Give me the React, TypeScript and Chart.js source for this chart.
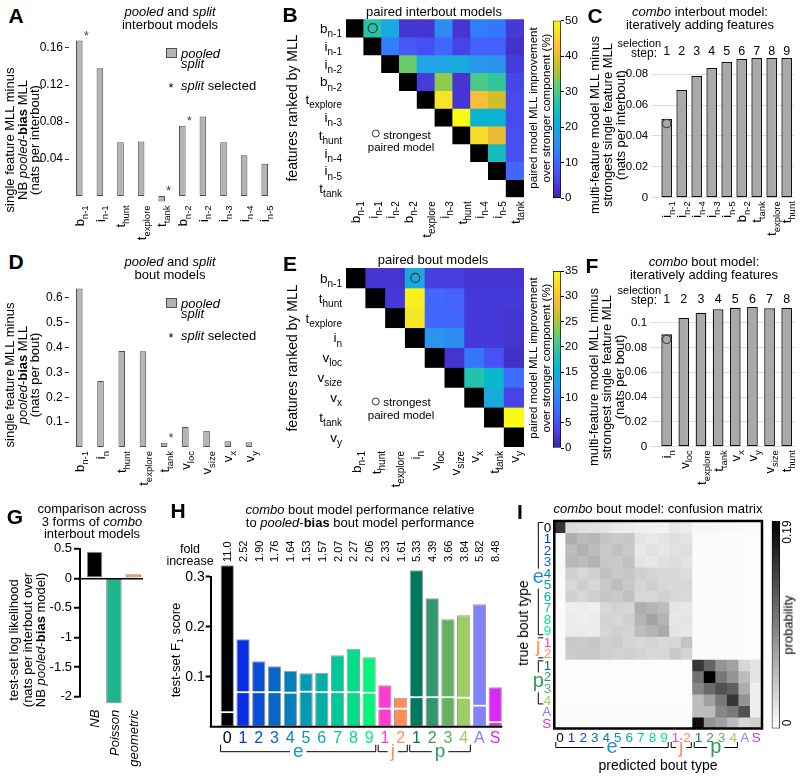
import React, { useEffect, useRef } from 'react';
import { Chart, registerables } from 'chart.js';

Chart.register(...registerables);
const FONT = '"Liberation Sans", Arial, Helvetica, sans-serif';
Chart.defaults.font.family = FONT;
Chart.defaults.color = '#000';

// ---------------- DATA ----------------
// A: pooled and split interbout models
const aLabels = ['b_n-1', 'i_n-1', 't_hunt', 't_explore', 't_tank', 'b_n-2', 'i_n-2', 'i_n-3', 'i_n-4', 'i_n-5'];
const aValues = [0.168, 0.138, 0.058, 0.059, -0.006, 0.076, 0.086, 0.058, 0.044, 0.035];
const aSplitSelected = [true, false, false, false, true, true, false, false, false, false];
const aTicks = [0.04, 0.08, 0.12, 0.16];

// B: paired interbout models (% improvement, upper triangle)
const bLabels = ['b_n-1', 'i_n-1', 'i_n-2', 'b_n-2', 't_explore', 'i_n-3', 't_hunt', 'i_n-4', 'i_n-5', 't_tank'];
const bMatrix = [
  [null, 27, 20, 3, 3, 15, 3, 13, 12, 3.5],
  [null, null, 13, 8, 6.5, 10, 5, 9, 9, 2.5],
  [null, null, null, 32, 19, 19, 20, 17, 16, 4],
  [null, null, null, null, 4, 34, 3, 30, 28, 5.5],
  [null, null, null, null, null, 47, 3, 42, 38, 6],
  [null, null, null, null, null, null, 50, 22, 21.5, 6],
  [null, null, null, null, null, null, null, 46, 40, 6.5],
  [null, null, null, null, null, null, null, null, 25, 7],
  [null, null, null, null, null, null, null, null, null, 10],
  [null, null, null, null, null, null, null, null, null, null],
];
const bStrongest = [0, 1];
const bColorTicks = [0, 10, 20, 30, 40, 50];
const bMax = 50;

// C: combo interbout model
const cLabels = ['i_n-1', 'i_n-2', 'i_n-4', 'i_n-3', 'i_n-5', 'b_n-2', 't_tank', 't_explore', 't_hunt'];
const cValues = [0.0509, 0.0697, 0.0788, 0.084, 0.0878, 0.0898, 0.0904, 0.0904, 0.0905];
const cSteps = ['1', '2', '3', '4', '5', '6', '7', '8', '9'];
const cTicks = [0, 0.02, 0.04, 0.06, 0.08];
const cMarker = 0.048;

// D: pooled and split bout models
const dLabels = ['b_n-1', 'i_n', 't_hunt', 't_explore', 't_tank', 'v_loc', 'v_size', 'v_x', 'v_y'];
const dValues = [0.637, 0.265, 0.386, 0.385, 0.017, 0.08, 0.065, 0.023, 0.019];
const dSplitSelected = [false, false, false, false, true, false, false, false, false];
const dTicks = [0.1, 0.2, 0.3, 0.4, 0.5, 0.6];

// E: paired bout models
const eLabels = ['b_n-1', 't_hunt', 't_explore', 'i_n', 'v_loc', 'v_size', 'v_x', 't_tank', 'v_y'];
const eMatrix = [
  [null, 2, 2, 14, 3, 3, 2, 2, 2],
  [null, null, 2.5, 34, 7, 6.5, 2.5, 2.5, 2.5],
  [null, null, null, 33, 7, 7, 2.5, 2.5, 2],
  [null, null, null, null, 11.5, 10.5, 2.5, 2.5, 2],
  [null, null, null, null, null, 2, 8.5, 5, 1.5],
  [null, null, null, null, null, null, 18.5, 16, 7.5],
  [null, null, null, null, null, null, null, 14, 3.5],
  [null, null, null, null, null, null, null, null, 35],
  [null, null, null, null, null, null, null, null, null],
];
const eStrongest = [0, 3];
const eColorTicks = [0, 5, 10, 15, 20, 25, 30, 35];
const eMax = 35;

// F: combo bout model
const fLabels = ['i_n', 'v_loc', 't_explore', 't_tank', 'v_x', 'v_y', 'v_size', 't_hunt'];
const fValues = [0.0906, 0.104, 0.108, 0.1108, 0.1121, 0.1127, 0.1116, 0.1121];
const fSteps = ['1', '2', '3', '4', '5', '6', '7', '8'];
const fTicks = [0, 0.02, 0.04, 0.06, 0.08, 0.1];
const fMarker = 0.0866;

// G: 3 forms of combo interbout models
const gLabels = ['NB', 'Poisson', 'geometric'];
const gValues = [0.45, -2.11, 0.067];
const gColors = ['#000000', '#1fb58b', '#f28a1c'];
const gTicks = [0.5, 0, -0.5, -1, -1.5, -2];

// H: F1 scores
const boutLabels = ['0', '1', '2', '3', '4', '5', '6', '7', '8', '9', '1', '2', '1', '2', '3', '4', 'A', 'S'];
const boutColors = ['#000000', '#0a2ee6', '#0a50d6', '#0868c8', '#0580bc', '#049ab4', '#02b0a6', '#00c896', '#00de88', '#00f47a', '#ff3cd0', '#ff8c5a', '#007a5c', '#33966a', '#66b064', '#a0cc64', '#8282ff', '#dc28f5'];
const boutGroups = [
  { label: 'e', from: 0, to: 9, color: '#2a8cd2' },
  { label: 'j', from: 10, to: 11, color: '#ff8c5a' },
  { label: 'p', from: 12, to: 15, color: '#2f9a62' },
];
const hValues = [0.323, 0.175, 0.131, 0.121, 0.112, 0.107, 0.108, 0.143, 0.156, 0.139, 0.083, 0.058, 0.313, 0.257, 0.215, 0.223, 0.245, 0.079];
const hChance = [0.029, 0.069, 0.069, 0.069, 0.068, 0.07, 0.069, 0.069, 0.069, 0.068, 0.036, 0.036, 0.059, 0.059, 0.059, 0.058, 0.042, 0.009];
const hFold = ['11.0', '2.52', '1.90', '1.76', '1.64', '1.53', '1.57', '2.07', '2.27', '2.06', '2.33', '1.61', '5.33', '4.39', '3.66', '3.84', '5.82', '8.48'];
const hTicks = [0.1, 0.2, 0.3];

// I: confusion matrix (rows true, cols predicted)
const iMax = 0.19;
const iMatrix = [
  [0.15, 0.026, 0.024, 0.022, 0.02, 0.016, 0.014, 0.012, 0.012, 0.01, 0.018, 0.014, 0.006, 0.006, 0.005, 0.005, 0.004, 0.004],
  [0.004, 0.06, 0.05, 0.054, 0.044, 0.04, 0.042, 0.02, 0.017, 0.02, 0.024, 0.02, 0.003, 0.003, 0.003, 0.003, 0.002, 0.002],
  [0.004, 0.05, 0.058, 0.05, 0.04, 0.046, 0.04, 0.017, 0.022, 0.018, 0.022, 0.025, 0.003, 0.003, 0.003, 0.003, 0.002, 0.002],
  [0.004, 0.054, 0.05, 0.057, 0.042, 0.04, 0.046, 0.02, 0.018, 0.022, 0.025, 0.021, 0.003, 0.003, 0.003, 0.003, 0.002, 0.002],
  [0.004, 0.036, 0.03, 0.035, 0.046, 0.04, 0.043, 0.035, 0.031, 0.03, 0.03, 0.026, 0.003, 0.003, 0.003, 0.003, 0.002, 0.002],
  [0.004, 0.03, 0.036, 0.03, 0.04, 0.049, 0.04, 0.031, 0.035, 0.03, 0.028, 0.03, 0.003, 0.003, 0.003, 0.003, 0.002, 0.002],
  [0.004, 0.034, 0.03, 0.036, 0.043, 0.04, 0.047, 0.03, 0.03, 0.035, 0.03, 0.028, 0.003, 0.003, 0.003, 0.003, 0.002, 0.002],
  [0.003, 0.012, 0.014, 0.012, 0.03, 0.033, 0.03, 0.06, 0.055, 0.05, 0.02, 0.018, 0.003, 0.003, 0.003, 0.003, 0.002, 0.002],
  [0.003, 0.014, 0.012, 0.015, 0.033, 0.03, 0.035, 0.055, 0.068, 0.056, 0.018, 0.02, 0.003, 0.003, 0.003, 0.003, 0.002, 0.002],
  [0.003, 0.015, 0.016, 0.014, 0.03, 0.035, 0.032, 0.05, 0.056, 0.063, 0.02, 0.018, 0.003, 0.003, 0.003, 0.003, 0.002, 0.002],
  [0.003, 0.04, 0.038, 0.042, 0.035, 0.038, 0.032, 0.03, 0.032, 0.028, 0.03, 0.045, 0.003, 0.003, 0.003, 0.003, 0.002, 0.002],
  [0.003, 0.038, 0.042, 0.04, 0.036, 0.033, 0.035, 0.032, 0.028, 0.03, 0.04, 0.032, 0.003, 0.003, 0.003, 0.003, 0.002, 0.002],
  [0.002, 0.002, 0.002, 0.002, 0.002, 0.002, 0.002, 0.002, 0.002, 0.002, 0.002, 0.002, 0.15, 0.115, 0.08, 0.07, 0.03, 0.02],
  [0.002, 0.002, 0.002, 0.002, 0.002, 0.002, 0.002, 0.002, 0.002, 0.002, 0.002, 0.002, 0.105, 0.19, 0.1, 0.08, 0.05, 0.02],
  [0.002, 0.002, 0.002, 0.002, 0.002, 0.002, 0.002, 0.002, 0.002, 0.002, 0.002, 0.002, 0.09, 0.11, 0.13, 0.12, 0.06, 0.012],
  [0.002, 0.002, 0.002, 0.002, 0.002, 0.002, 0.002, 0.002, 0.002, 0.002, 0.002, 0.002, 0.05, 0.07, 0.1, 0.15, 0.08, 0.012],
  [0.003, 0.003, 0.003, 0.003, 0.003, 0.003, 0.003, 0.003, 0.003, 0.003, 0.003, 0.003, 0.05, 0.05, 0.09, 0.1, 0.13, 0.012],
  [0.003, 0.003, 0.003, 0.003, 0.003, 0.003, 0.003, 0.003, 0.003, 0.003, 0.003, 0.003, 0.18, 0.08, 0.07, 0.05, 0.03, 0.035],
];

// ---------------- HELPERS ----------------
const PARULA: [number, number[]][] = [
  [0, [0.2422, 0.1504, 0.6603]], [4, [0.2706, 0.2147, 0.8364]], [8, [0.2813, 0.3006, 0.9414]],
  [12, [0.2699, 0.3892, 0.9906]], [16, [0.1963, 0.4847, 0.9892]], [20, [0.1687, 0.5703, 0.9359]],
  [24, [0.1248, 0.6459, 0.8883]], [28, [0.0297, 0.7082, 0.8163]], [32, [0.0964, 0.75, 0.712]],
  [36, [0.2161, 0.7843, 0.5923]], [40, [0.3909, 0.8029, 0.4354]], [44, [0.6174, 0.7876, 0.2612]],
  [48, [0.8203, 0.7498, 0.1535]], [52, [0.9728, 0.7298, 0.2394]], [56, [0.9892, 0.8136, 0.1885]],
  [60, [0.9597, 0.9135, 0.1423]], [63, [0.9769, 0.9839, 0.0805]],
];
function parula(t: number) {
  const f = Math.max(0, Math.min(1, t)) * 63;
  let k = 0;
  while (k < PARULA.length - 2 && PARULA[k + 1][0] < f) k++;
  const [p0, c0] = PARULA[k];
  const [p1, c1] = PARULA[k + 1];
  const u = (f - p0) / (p1 - p0);
  const c = c0.map((v, j) => Math.round(255 * (v + (c1[j] - v) * u)));
  return `rgb(${c[0]},${c[1]},${c[2]})`;
}
function grayOf(v: number) {
  const g = Math.round(255 * (1 - Math.max(0, Math.min(1, v / iMax))));
  return `rgb(${g},${g},${g})`;
}

type Rect = { x: number; y: number; w: number; h: number };
type Area = { l: number; r: number; t: number; b: number; min: number; max: number };
function area(l: number, r: number, zero: number, ppu: number, min: number, max: number): Area {
  return { l, r, t: zero - max * ppu, b: zero - min * ppu, min, max };
}
function padFor(rect: Rect, a: { l: number; r: number; t: number; b: number }, yw: number, right = false) {
  return {
    left: a.l - rect.x - (right ? 0 : yw),
    top: a.t - rect.y,
    right: rect.x + rect.w - a.r - (right ? yw : 0),
    bottom: rect.y + rect.h - a.b,
  };
}

function drawSubText(ctx: CanvasRenderingContext2D, label: string, ax: number, ay: number, size: number, subSize: number, opts: any = {}) {
  const { rotate = false, align = 'right', color = '#000', italic = false } = opts;
  const idx = label.indexOf('_');
  const base = idx >= 0 ? label.slice(0, idx) : label;
  const sub = idx >= 0 ? label.slice(idx + 1) : '';
  const fb = (italic ? 'italic ' : '') + size + 'px ' + FONT;
  const fs = subSize + 'px ' + FONT;
  ctx.save();
  ctx.font = fb;
  const wb = ctx.measureText(base).width;
  ctx.font = fs;
  const ws = sub ? ctx.measureText(sub).width : 0;
  const total = wb + ws;
  ctx.translate(ax, ay);
  if (rotate) ctx.rotate(-Math.PI / 2);
  const x0 = align === 'right' ? -total : align === 'center' ? -total / 2 : 0;
  const by = size * 0.36;
  ctx.fillStyle = color;
  ctx.textAlign = 'left';
  ctx.textBaseline = 'alphabetic';
  ctx.font = fb;
  ctx.fillText(base, x0, by);
  if (sub) {
    ctx.font = fs;
    ctx.fillText(sub, x0 + wb, by + size * 0.3);
  }
  ctx.restore();
}

function drawBracket(ctx: CanvasRenderingContext2D, horiz: boolean, a: number, b: number, pos: number, tick: number, letter: string, color: string, fsize: number) {
  ctx.save();
  ctx.font = fsize + 'px ' + FONT;
  const m = (a + b) / 2;
  const gap = horiz ? ctx.measureText(letter).width / 2 + 3 : fsize * 0.4 + 2;
  ctx.strokeStyle = '#000';
  ctx.lineWidth = 1;
  ctx.beginPath();
  if (horiz) {
    ctx.moveTo(a, pos + tick); ctx.lineTo(a, pos); ctx.lineTo(m - gap, pos);
    ctx.moveTo(m + gap, pos); ctx.lineTo(b, pos); ctx.lineTo(b, pos + tick);
  } else {
    ctx.moveTo(pos + tick, a); ctx.lineTo(pos, a); ctx.lineTo(pos, m - gap);
    ctx.moveTo(pos, m + gap); ctx.lineTo(pos, b); ctx.lineTo(pos + tick, b);
  }
  ctx.stroke();
  ctx.fillStyle = color;
  ctx.textAlign = 'center';
  ctx.textBaseline = 'middle';
  if (horiz) ctx.fillText(letter, m, pos);
  else ctx.fillText(letter, pos, m - 1);
  ctx.restore();
}

const common = {
  responsive: false,
  animation: false,
  devicePixelRatio: 1,
  events: [],
  plugins: { legend: { display: false }, tooltip: { enabled: false }, title: { display: false } },
};

// ---------------- CONFIGS ----------------
function featureConfig(o: any) {
  return {
    type: 'bar',
    data: {
      labels: o.labels.map((_: any, i: number) => 'k' + i),
      datasets: [{
        data: o.values, backgroundColor: o.bg, borderColor: o.border, borderWidth: o.bw,
        barPercentage: o.pct, categoryPercentage: 1, clip: false, borderSkipped: false,
      }],
    },
    options: {
      ...common,
      layout: { padding: padFor(o.rect, o.area, o.yw) },
      scales: {
        x: { display: false },
        y: {
          min: o.area.min, max: o.area.max,
          afterFit: (s: any) => { s.width = o.yw; },
          afterBuildTicks: (s: any) => { s.ticks = o.ticks.map((v: number) => ({ value: v })); },
          ticks: { callback: (v: number) => String(+v.toFixed(2)), font: { size: o.tickSize, family: FONT }, color: '#000', padding: o.tickPad },
          grid: o.grid,
          border: { display: false },
        },
      },
    },
    plugins: [{
      id: 'featDeco',
      afterDatasetsDraw(chart: any) {
        const { ctx, chartArea: ca } = chart;
        const xs = chart.scales.x, ys = chart.scales.y;
        o.labels.forEach((lab: string, i: number) => {
          const x = xs.getPixelForValue(i);
          drawSubText(ctx, lab, x, ca.bottom + o.labelGap, 13, 9.5, { rotate: true, align: 'right' });
          if (o.stars && o.stars[i]) {
            const yt = ys.getPixelForValue(Math.max(o.values[i], 0));
            ctx.save();
            ctx.font = '12px ' + FONT; ctx.fillStyle = '#333'; ctx.textAlign = 'center'; ctx.textBaseline = 'middle';
            ctx.fillText('*', x + 7, yt - 4);
            ctx.restore();
          }
          if (o.steps) {
            ctx.save();
            ctx.font = '12.5px ' + FONT; ctx.fillStyle = '#000'; ctx.textAlign = 'center'; ctx.textBaseline = 'middle';
            ctx.fillText(o.steps[i], x, ca.top - o.stepGap);
            ctx.restore();
          }
        });
        if (o.marker != null) {
          ctx.save();
          ctx.strokeStyle = '#444'; ctx.lineWidth = 1.2;
          ctx.beginPath();
          ctx.arc(xs.getPixelForValue(0), ys.getPixelForValue(o.marker), 4.2, 0, Math.PI * 2);
          ctx.stroke();
          ctx.restore();
        }
      },
    }],
  };
}

const A_RECT = { x: 40, y: 15, w: 245, h: 262 };
const A_AREA = area(69, 275, 196, 925, -0.008, 0.175);
const D_RECT = { x: 40, y: 265, w: 245, h: 257 };
const D_AREA = area(68.7, 259.6, 447, 249, 0, 0.66);
const C_RECT = { x: 595, y: 28, w: 205, h: 247 };
const C_AREA = area(659.2, 794.2, 197.7, 1545, 0, 0.0905);
const F_RECT = { x: 595, y: 278, w: 205, h: 244 };
const F_AREA = area(658.1, 795.3, 446.7, 1240, 0, 0.113);

const featGrid = { drawOnChartArea: false, drawTicks: true, tickLength: 4, color: '#333', tickColor: '#333' };
const lightGrid = { drawOnChartArea: true, drawTicks: true, tickLength: 8, color: '#dedede', tickColor: '#dedede' };

const configA = () => featureConfig({ rect: A_RECT, area: A_AREA, yw: 32, labels: aLabels, values: aValues, ticks: aTicks, tickSize: 12, tickPad: 2, grid: featGrid, bg: '#b4b4b4', border: '#505050', bw: 1, pct: 0.32, labelGap: 2, stars: aSplitSelected });
const configD = () => featureConfig({ rect: D_RECT, area: D_AREA, yw: 32, labels: dLabels, values: dValues, ticks: dTicks, tickSize: 12, tickPad: 2, grid: featGrid, bg: '#b4b4b4', border: '#505050', bw: 1, pct: 0.31, labelGap: 4, stars: dSplitSelected });
const configC = () => featureConfig({ rect: C_RECT, area: C_AREA, yw: 45, labels: cLabels, values: cValues, ticks: cTicks, tickSize: 11.5, tickPad: 3, grid: lightGrid, bg: '#a9a9a9', border: '#111', bw: 1.3, pct: 0.71, labelGap: 3.5, steps: cSteps, stepGap: 6, marker: cMarker });
const configF = () => featureConfig({ rect: F_RECT, area: F_AREA, yw: 45, labels: fLabels, values: fValues, ticks: fTicks, tickSize: 11.5, tickPad: 3, grid: lightGrid, bg: '#a9a9a9', border: '#111', bw: 1.3, pct: 0.625, labelGap: 3.5, steps: fSteps, stepGap: 7.5, marker: fMarker });

function heatConfig(rect: Rect, a: any, labels: string[], matrix: (number | null)[][], vmax: number, strongest: number[]) {
  const n = labels.length;
  return {
    type: 'bar',
    data: {
      labels: labels.map((_, i) => 'c' + i),
      datasets: labels.map((_, r) => ({
        data: labels.map(() => 1),
        backgroundColor: labels.map((__, c) => (c === r ? '#000000' : c > r && matrix[r][c] != null ? parula((matrix[r][c] as number) / vmax) : 'rgba(0,0,0,0)')),
        borderWidth: 0, barPercentage: 1, categoryPercentage: 1, inflateAmount: 0.4,
      })),
    },
    options: {
      ...common,
      layout: { padding: padFor(rect, a, 0) },
      scales: {
        x: { display: false, stacked: true },
        y: { display: false, stacked: true, min: 0, max: n, reverse: true },
      },
    },
    plugins: [{
      id: 'heatDeco',
      afterDatasetsDraw(chart: any) {
        const { ctx, chartArea: ca } = chart;
        const xs = chart.scales.x, ys = chart.scales.y;
        labels.forEach((lab, i) => {
          drawSubText(ctx, lab, ca.left - 4, ys.getPixelForValue(i + 0.5), 13.5, 10, { align: 'right' });
          drawSubText(ctx, lab, xs.getPixelForValue(i), ca.bottom + 4, 13.5, 10, { rotate: true, align: 'right' });
        });
        ctx.save();
        ctx.strokeStyle = '#333'; ctx.lineWidth = 1.2;
        ctx.beginPath();
        ctx.arc(xs.getPixelForValue(strongest[1]), ys.getPixelForValue(strongest[0] + 0.5), 4.5, 0, Math.PI * 2);
        ctx.stroke();
        ctx.restore();
      },
    }],
  };
}

const B_RECT = { x: 250, y: 5, w: 285, h: 265 };
const B_AREA = { l: 346, r: 524, t: 19.3, b: 197.3 };
const E_RECT = { x: 250, y: 255, w: 285, h: 265 };
const E_AREA = { l: 346, r: 524, t: 268, b: 447 };
const configB = () => heatConfig(B_RECT, B_AREA, bLabels, bMatrix, bMax, bStrongest);
const configE = () => heatConfig(E_RECT, E_AREA, eLabels, eMatrix, eMax, eStrongest);

function colorbarConfig(rect: Rect, a: any, vmax: number, ticks: number[] | null, kind: 'parula' | 'gray') {
  const yw = ticks ? 22 : 0;
  return {
    type: 'bar',
    data: {
      labels: ['cb'],
      datasets: [{
        data: [vmax],
        backgroundColor: (c: any) => {
          const ca = c.chart.chartArea;
          if (!ca) return '#888';
          const g = c.chart.ctx.createLinearGradient(0, ca.bottom, 0, ca.top);
          if (kind === 'gray') { g.addColorStop(0, '#ffffff'); g.addColorStop(1, '#000000'); }
          else { for (let k = 0; k <= 20; k++) g.addColorStop(k / 20, parula(k / 20)); }
          return g;
        },
        borderColor: '#000', borderWidth: 1, borderSkipped: false, barPercentage: 1, categoryPercentage: 1,
      }],
    },
    options: {
      ...common,
      layout: { padding: padFor(rect, a, yw, true) },
      scales: {
        x: { display: false },
        y: ticks ? {
          position: 'right', min: 0, max: vmax,
          afterFit: (s: any) => { s.width = yw; },
          afterBuildTicks: (s: any) => { s.ticks = ticks.map((v) => ({ value: v })); },
          ticks: { font: { size: 11.5, family: FONT }, color: '#000', padding: 1 },
          grid: { drawOnChartArea: false, drawTicks: true, tickLength: 3, tickColor: '#000', color: '#000' },
          border: { display: false },
        } : { display: false, min: 0, max: vmax },
      },
    },
  };
}
const BC_RECT = { x: 545, y: 5, w: 50, h: 210 };
const EC_RECT = { x: 545, y: 255, w: 50, h: 210 };
const IC_RECT = { x: 765, y: 505, w: 30, h: 240 };
const configBC = () => colorbarConfig(BC_RECT, { l: 553, r: 561, t: 20.7, b: 198.3 }, bMax, bColorTicks, 'parula');
const configEC = () => colorbarConfig(EC_RECT, { l: 553, r: 561, t: 271, b: 448 }, eMax, eColorTicks, 'parula');
const configIC = () => colorbarConfig(IC_RECT, { l: 771.7, r: 780, t: 521, b: 728.5 }, iMax, null, 'gray');

const G_RECT = { x: 40, y: 530, w: 115, h: 247 };
const G_AREA = area(80, 143, 578.3, 59.2, -2, 0.5);
const configG = () => ({
  type: 'bar',
  data: {
    datasets: [{
      data: gValues.map((v, i) => ({ x: i, y: v })),
      backgroundColor: gColors, borderColor: 'rgba(0,0,0,0.45)', borderWidth: 1,
      barPercentage: 0.8, categoryPercentage: 1, clip: false, borderSkipped: false,
    }],
  },
  options: {
    ...common,
    layout: { padding: padFor(G_RECT, G_AREA, 40) },
    scales: {
      x: { type: 'linear', display: false, offset: false, min: -0.75, max: 2.5 },
      y: {
        min: G_AREA.min, max: G_AREA.max,
        afterFit: (s: any) => { s.width = 40; },
        afterBuildTicks: (s: any) => { s.ticks = gTicks.map((v) => ({ value: v })); },
        ticks: { callback: (v: number) => String(v), font: { size: 13, family: FONT }, color: '#000', padding: 2 },
        grid: { drawOnChartArea: true, drawTicks: true, tickLength: 6, tickColor: '#000', tickWidth: 2, lineWidth: 1.5, color: (c: any) => (c.tick && c.tick.value === 0 ? '#000' : 'rgba(0,0,0,0)') },
        border: { display: true, color: '#000', width: 2 },
      },
    },
  },
  plugins: [{
    id: 'gDeco',
    afterDatasetsDraw(chart: any) {
      const { ctx, chartArea: ca } = chart;
      const xs = chart.scales.x;
      gLabels.forEach((lab, i) => drawSubText(ctx, lab, xs.getPixelForValue(i), ca.bottom + 13, 13, 9, { rotate: true, align: 'right', italic: true }));
    },
  }],
});

const H_RECT = { x: 165, y: 530, w: 345, h: 247 };
const H_AREA = area(210.7, 502.3, 726.7, 500, 0, 0.3);
const configH = () => ({
  type: 'bar',
  data: {
    datasets: [{
      data: hValues.map((v, i) => ({ x: i, y: v })),
      backgroundColor: boutColors, borderColor: 'rgba(0,0,0,0.4)', borderWidth: 1,
      barPercentage: 0.845, categoryPercentage: 1, clip: false, borderSkipped: false,
    }],
  },
  options: {
    ...common,
    layout: { padding: padFor(H_RECT, H_AREA, 40) },
    scales: {
      x: { type: 'linear', display: false, offset: false, min: -1.05, max: 17.45 },
      y: {
        min: 0, max: 0.3,
        afterFit: (s: any) => { s.width = 40; },
        afterBuildTicks: (s: any) => { s.ticks = hTicks.map((v) => ({ value: v })); },
        ticks: { callback: (v: number) => v.toFixed(1), font: { size: 14, family: FONT }, color: '#000', padding: 1 },
        grid: { drawOnChartArea: false, drawTicks: true, tickLength: 5, tickColor: '#000', tickWidth: 2 },
        border: { display: true, color: '#000', width: 2 },
      },
    },
  },
  plugins: [{
    id: 'hDeco',
    afterDatasetsDraw(chart: any) {
      const { ctx, chartArea: ca } = chart;
      const xs = chart.scales.x, ys = chart.scales.y;
      const meta = chart.getDatasetMeta(0);
      ctx.save();
      ctx.strokeStyle = '#000'; ctx.lineWidth = 2;
      ctx.beginPath(); ctx.moveTo(ca.left - 1, ca.bottom); ctx.lineTo(ca.right, ca.bottom); ctx.stroke();
      ctx.strokeStyle = '#fff'; ctx.lineWidth = 1.8;
      hChance.forEach((v, i) => {
        const el = meta.data[i];
        const hw = el.width / 2 + 1.5;
        const y = ys.getPixelForValue(v);
        ctx.beginPath(); ctx.moveTo(el.x - hw, y); ctx.lineTo(el.x + hw, y); ctx.stroke();
      });
      ctx.restore();
      const hw = meta.data[0].width / 2;
      boutLabels.forEach((lab, i) => {
        const x = xs.getPixelForValue(i);
        drawSubText(ctx, hFold[i], x, ca.top - 14.7, 11, 8, { rotate: true, align: 'left' });
        drawSubText(ctx, lab, x, ca.bottom + 10.5, 16, 10, { align: 'center', color: boutColors[i] });
      });
      boutGroups.forEach((g) => {
        drawBracket(ctx, true, xs.getPixelForValue(g.from) - hw, xs.getPixelForValue(g.to) + hw, ca.bottom + 25, -7, g.label, g.color, 19);
      });
    },
  }],
});

const I_RECT = { x: 515, y: 505, w: 255, h: 272 };
const I_AREA = { l: 554.3, r: 762, t: 521, b: 728.5 };
const configI = () => ({
  type: 'bar',
  data: {
    labels: boutLabels.map((_, i) => 'c' + i),
    datasets: iMatrix.map((row) => ({
      data: row.map(() => 1),
      backgroundColor: row.map((v) => grayOf(v)),
      borderWidth: 0, barPercentage: 1, categoryPercentage: 1, inflateAmount: 0.5,
    })),
  },
  options: {
    ...common,
    layout: { padding: padFor(I_RECT, I_AREA, 0) },
    scales: {
      x: { display: false, stacked: true },
      y: { display: false, stacked: true, min: 0, max: boutLabels.length, reverse: true },
    },
  },
  plugins: [{
    id: 'iDeco',
    afterDatasetsDraw(chart: any) {
      const { ctx, chartArea: ca } = chart;
      const xs = chart.scales.x, ys = chart.scales.y;
      ctx.save();
      ctx.strokeStyle = '#000'; ctx.lineWidth = 2.5;
      ctx.strokeRect(ca.left, ca.top, ca.right - ca.left, ca.bottom - ca.top);
      ctx.restore();
      const cw = (ca.right - ca.left) / boutLabels.length;
      boutLabels.forEach((lab, i) => {
        drawSubText(ctx, lab, ca.left - 3, ys.getPixelForValue(i + 0.5), 13.5, 9, { align: 'right', color: boutColors[i] });
        drawSubText(ctx, lab, xs.getPixelForValue(i), ca.bottom + 8.5, 13.5, 9, { align: 'center', color: boutColors[i] });
      });
      boutGroups.forEach((g) => {
        drawBracket(ctx, false, ys.getPixelForValue(g.from) + 1.5, ys.getPixelForValue(g.to + 1) - 1.5, ca.left - 16, 5, g.label, g.color, 20);
        drawBracket(ctx, true, xs.getPixelForValue(g.from) - cw / 2 + 1.5, xs.getPixelForValue(g.to) + cw / 2 - 1.5, ca.bottom + 19, -5.5, g.label, g.color, 20);
      });
    },
  }],
});

// ---------------- COMPONENTS ----------------
function ChartCanvas({ rect, config }: { rect: Rect; config: () => any }) {
  const ref = useRef<HTMLCanvasElement>(null);
  useEffect(() => {
    const chart = new Chart(ref.current as HTMLCanvasElement, config());
    return () => chart.destroy();
  }, []);
  return <canvas ref={ref} width={rect.w} height={rect.h} style={{ position: 'absolute', left: rect.x, top: rect.y, width: rect.w, height: rect.h }} />;
}

function Txt({ x, y, children, size = 13, rot = 0, lh, anchor = 'center', bold = false, italic = false, align = 'center' }: any) {
  const tx = anchor === 'left' ? '0' : anchor === 'right' ? '-100%' : '-50%';
  return (
    <div style={{
      position: 'absolute', left: x, top: y, transform: `translate(${tx}, -50%)` + (rot ? ` rotate(${rot}deg)` : ''),
      fontSize: size, lineHeight: (lh || size * 1.0) + 'px', whiteSpace: 'nowrap', textAlign: align,
      fontWeight: bold ? 'bold' : 'normal', fontStyle: italic ? 'italic' : 'normal',
    }}>{children}</div>
  );
}

const Circ = () => (
  <span style={{ display: 'inline-block', width: 8, height: 8, border: '1.2px solid #333', borderRadius: '50%', boxSizing: 'border-box', marginRight: 4, verticalAlign: 'middle', position: 'relative', top: -1 }} />
);

function Legend({ y0 }: { y0: number }) {
  return (
    <>
      <div style={{ position: 'absolute', left: 166, top: y0, width: 11, height: 10, background: '#b4b4b4', border: '1px solid #505050', boxSizing: 'border-box' }} />
      <Txt x={181} y={y0 + 4.7} anchor="left" italic>pooled</Txt>
      <Txt x={181} y={y0 + 15.3} anchor="left" italic>split</Txt>
      <Txt x={171} y={y0 + 39} size={13}>*</Txt>
      <Txt x={181} y={y0 + 37} anchor="left"><i>split</i> selected</Txt>
    </>
  );
}

export default function App() {
  return (
    <div style={{ position: 'absolute', left: 0, top: 0, width: 800, height: 777, background: '#fff', overflow: 'hidden', fontFamily: FONT, color: '#000' }}>
      <ChartCanvas rect={A_RECT} config={configA} />
      <ChartCanvas rect={D_RECT} config={configD} />
      <ChartCanvas rect={B_RECT} config={configB} />
      <ChartCanvas rect={E_RECT} config={configE} />
      <ChartCanvas rect={BC_RECT} config={configBC} />
      <ChartCanvas rect={EC_RECT} config={configEC} />
      <ChartCanvas rect={C_RECT} config={configC} />
      <ChartCanvas rect={F_RECT} config={configF} />
      <ChartCanvas rect={G_RECT} config={configG} />
      <ChartCanvas rect={H_RECT} config={configH} />
      <ChartCanvas rect={I_RECT} config={configI} />
      <ChartCanvas rect={IC_RECT} config={configIC} />

      {/* panel letters */}
      <Txt x={16} y={15} size={21} bold>A</Txt>
      <Txt x={290} y={14} size={21} bold>B</Txt>
      <Txt x={595} y={15} size={21} bold>C</Txt>
      <Txt x={16} y={261} size={21} bold>D</Txt>
      <Txt x={290} y={263} size={21} bold>E</Txt>
      <Txt x={592} y={265} size={21} bold>F</Txt>
      <Txt x={15} y={516} size={21} bold>G</Txt>
      <Txt x={178} y={510} size={21} bold>H</Txt>
      <Txt x={520} y={511} size={21} bold>I</Txt>

      {/* titles */}
      <Txt x={170} y={18} lh={12.5}><i>pooled</i> and <i>split</i><br />interbout models</Txt>
      <Txt x={434} y={11}>paired interbout models</Txt>
      <Txt x={700} y={18} lh={12.5}><i>combo</i> interbout model:<br />iteratively adding features</Txt>
      <Txt x={170} y={268} lh={12.5}><i>pooled</i> and <i>split</i><br />bout models</Txt>
      <Txt x={433} y={259}>paired bout models</Txt>
      <Txt x={704} y={268} lh={12.5}><i>combo</i> bout model:<br />iteratively adding features</Txt>
      <Txt x={92} y={522} lh={12.5}>comparison across<br />3 forms of <i>combo</i><br />interbout models</Txt>
      <Txt x={360} y={516} lh={12.5}><i>combo</i> bout model performance relative<br />to <i>pooled</i>-<b>bias</b> bout model performance</Txt>
      <Txt x={658} y={508}><i>combo</i> bout model: confusion matrix</Txt>

      {/* axis titles */}
      <Txt x={23} y={140} rot={-90} lh={12.5}>single feature MLL minus<br />NB <i>pooled</i>-<b>bias</b> MLL<br />(nats per interbout)</Txt>
      <Txt x={23} y={375} rot={-90} lh={12.5}>single feature MLL minus<br /><i>pooled</i>-<b>bias</b> MLL<br />(nats per bout)</Txt>
      <Txt x={607} y={125} rot={-90} lh={13}>multi-feature model MLL minus<br />strongest single feature MLL<br />(nats per interbout)</Txt>
      <Txt x={606} y={377} rot={-90} lh={13}>multi-feature model MLL minus<br />strongest single feature MLL<br />(nats per bout)</Txt>
      <Txt x={27} y={640} rot={-90} lh={13.5}>test-set log likelihood<br />(nats per interbout over<br />NB <i>pooled</i>-<b>bias</b> model)</Txt>
      <Txt x={176} y={650} rot={-90}>test-set F<span style={{ fontSize: 9, position: 'relative', top: 3 }}>1</span> score</Txt>
      <Txt x={292} y={108} rot={-90} size={14}>features ranked by MLL</Txt>
      <Txt x={292} y={358} rot={-90} size={14}>features ranked by MLL</Txt>
      <Txt x={523} y={623} rot={-90} size={14}>true bout type</Txt>
      <Txt x={658} y={765} size={14}>predicted bout type</Txt>

      {/* colorbar titles */}
      <Txt x={539} y={108} rot={-90} size={11.5} lh={12.5}>paired model MLL improvement<br />over stronger component (%)</Txt>
      <Txt x={539} y={358} rot={-90} size={11.5} lh={12.5}>paired model MLL improvement<br />over stronger component (%)</Txt>
      <Txt x={787} y={532} rot={-90} size={12}>0.19</Txt>
      <Txt x={787} y={723} rot={-90} size={12}>0</Txt>
      <Txt x={788} y={625} rot={-90} size={13}>probability</Txt>

      {/* legends & annotations */}
      <Legend y0={48} />
      <Legend y0={298} />
      <Txt x={401} y={140.5} size={11.5} lh={12.5}><Circ />strongest<br />paired model</Txt>
      <Txt x={401} y={408} size={11.5} lh={12.5}><Circ />strongest<br />paired model</Txt>
      <Txt x={190} y={555} size={12.5} lh={12}>fold<br />increase</Txt>
      <Txt x={661} y={43} anchor="right" size={11}>selection</Txt>
      <Txt x={657} y={52.5} anchor="right" size={12}>step:</Txt>
      <Txt x={661} y={290} anchor="right" size={11}>selection</Txt>
      <Txt x={657} y={299.5} anchor="right" size={12}>step:</Txt>
    </div>
  );
}
